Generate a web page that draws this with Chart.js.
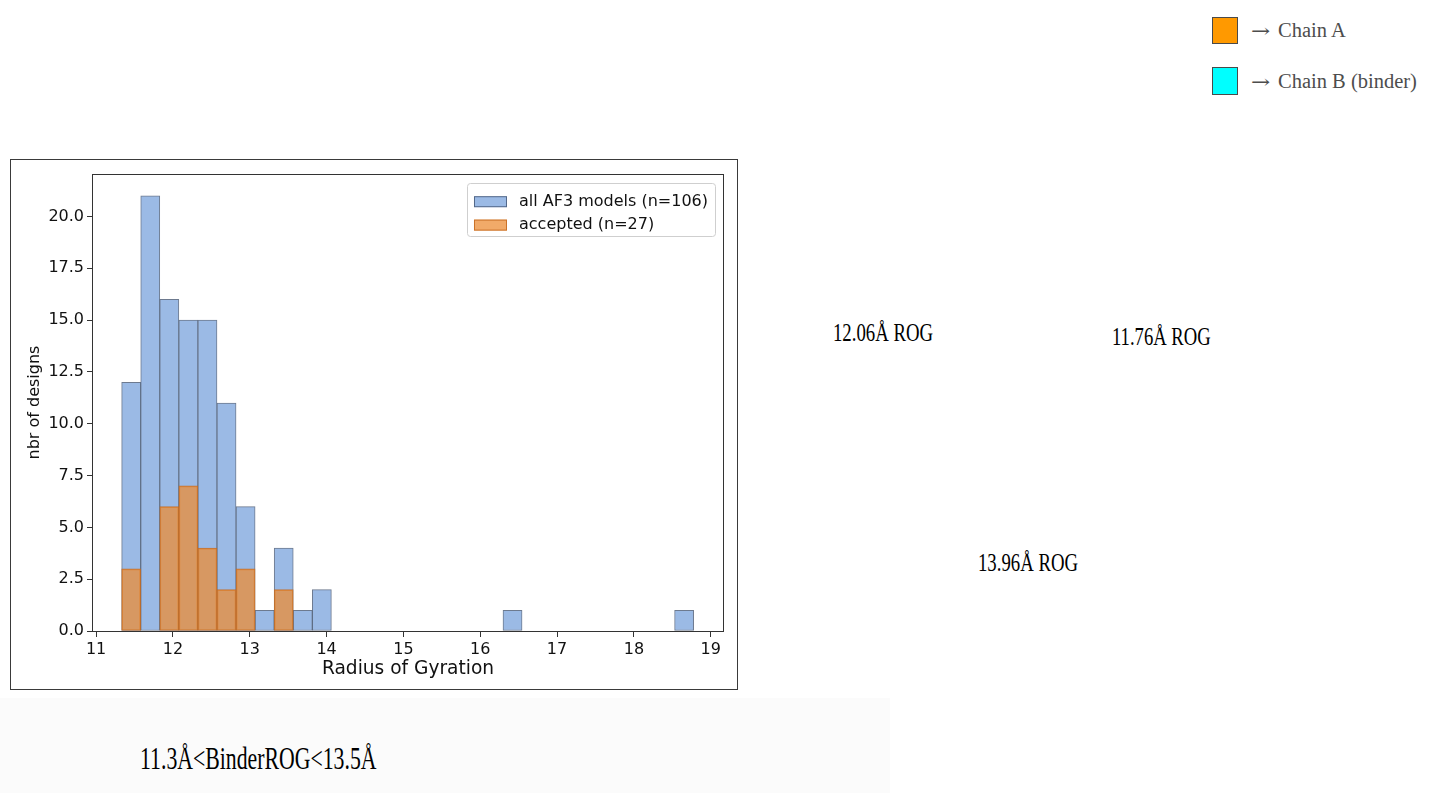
<!DOCTYPE html>
<html>
<head>
<meta charset="utf-8">
<script src="https://cdn.jsdelivr.net/npm/chart.js@4.4.1/dist/chart.umd.min.js"></script>
<style>
  html, body { margin:0; padding:0; background:#fff; }
  body { width:1456px; height:793px; overflow:hidden; position:relative; font-family:"DejaVu Sans", sans-serif; }
  #band { position:absolute; left:0; top:698px; width:890px; height:95px; background:#fbfbfb; }
  #frame { position:absolute; left:10px; top:159px; width:726px; height:529px; border:1px solid #3a3a3a; background:#fff; }
  #frame canvas { position:absolute; left:0; top:0; }
  .serif { position:absolute; font-family:"Liberation Serif", "Times New Roman", serif; line-height:1; white-space:nowrap; transform-origin:0 0; }
  .rog { font-size:25.5px; color:#000; }
  .chain { font-size:20.5px; color:#4d4d4d; }
  .arrow { position:absolute; font-family:"DejaVu Serif", serif; font-size:23px; line-height:1; color:#4d4d4d; transform-origin:0 0; transform:scaleY(0.8); }
  .sq { position:absolute; width:24px; border:1.5px solid #4a4a4a; }
</style>
</head>
<body>
<div id="band"></div>
<div id="frame"><canvas id="c" width="726" height="529"></canvas></div>

<div class="sq" style="left:1212px; top:17px; height:25px; background:#ff9900;"></div>
<div class="arrow" style="left:1251px; top:22px;">→</div>
<div class="serif chain" style="left:1278px; top:20px;">Chain A</div>
<div class="sq" style="left:1212px; top:67px; height:26px; background:#00ffff;"></div>
<div class="arrow" style="left:1251px; top:73px;">→</div>
<div class="serif chain" style="left:1278px; top:71px;">Chain B (binder)</div>

<div class="serif rog" style="left:833px; top:320px; transform:scaleX(0.735);">12.06Å ROG</div>
<div class="serif rog" style="left:1112px; top:324px; transform:scaleX(0.73);">11.76Å ROG</div>
<div class="serif rog" style="left:978px; top:550px; transform:scaleX(0.735);">13.96Å ROG</div>

<div class="serif" style="left:140px; top:742px; font-size:32px; color:#000; transform:scaleX(0.68);">11.3Å&lt;BinderROG&lt;13.5Å</div>

<script>
// ---- data (histogram of radius of gyration, 30 equal bins) ----
const rogMin = 11.333;
const rogMax = 18.778;
const nBins = 30;
const allCounts      = [12,21,16,15,15,11,6,1,4,1,2,0,0,0,0,0,0,0,0,0,1,0,0,0,0,0,0,0,0,1];
const acceptedCounts = [3,0,6,7,4,2,3,0,2,0,0,0,0,0,0,0,0,0,0,0,0,0,0,0,0,0,0,0,0,0];
const seriesLabels   = ['all AF3 models (n=106)', 'accepted (n=27)'];
const xTicks = [11,12,13,14,15,16,17,18,19];
const yTicks = [0,2.5,5,7.5,10,12.5,15,17.5,20];
const xTitle = 'Radius of Gyration';
const yTitle = 'nbr of designs';

const binWidth = (rogMax - rogMin) / nBins;
function toPoints(counts) {
  return counts.map((c, i) => ({ x: rogMin + (i + 0.5) * binWidth, y: c === 0 ? null : c }));
}

const FONT = 'DejaVu Sans';
const blueFill = '#9bbae5', blueEdge = 'rgba(60,78,105,0.75)';
const orangeFill = 'rgba(236,140,52,0.74)', orangeEdge = 'rgba(196,104,30,0.85)';

const boxAndLegend = {
  id: 'boxAndLegend',
  afterDraw(chart) {
    const { ctx, chartArea } = chart;
    ctx.save();
    ctx.strokeStyle = '#333';
    ctx.lineWidth = 1;
    ctx.strokeRect(Math.round(chartArea.left) - 0.5, Math.round(chartArea.top) + 0.5,
                   Math.round(chartArea.right - chartArea.left) + 1, Math.round(chartArea.bottom - chartArea.top));
    const ds = chart.data.datasets;
    const items = [ds[1], ds[0]];
    ctx.font = '16px "' + FONT + '"';
    const textW = Math.max(...items.map(d => ctx.measureText(d.label).width));
    const padX = 7, patchW = 33, patchH = 11, gap = 12;
    const boxW = padX + patchW + gap + textW + padX;
    const boxH = 53;
    const x0 = chartArea.right - 8 - boxW;
    const y0 = chartArea.top + 9;
    ctx.beginPath();
    ctx.roundRect(x0 + 0.5, y0 + 0.5, boxW, boxH, 3);
    ctx.fillStyle = 'rgba(255,255,255,0.85)';
    ctx.fill();
    ctx.strokeStyle = '#cfcfcf';
    ctx.stroke();
    items.forEach((d, i) => {
      const cy = y0 + 18.7 + i * 23.4;
      ctx.fillStyle = d.backgroundColor;
      ctx.fillRect(x0 + padX, cy - patchH / 2, patchW, patchH);
      ctx.strokeStyle = d.borderColor;
      ctx.strokeRect(x0 + padX + 0.5, cy - patchH / 2 + 0.5, patchW - 1, patchH - 1);
      ctx.fillStyle = '#111';
      ctx.textBaseline = 'middle';
      ctx.textAlign = 'left';
      ctx.fillText(d.label, x0 + padX + patchW + gap, cy);
    });
    ctx.restore();
  }
};

new Chart(document.getElementById('c'), {
  type: 'bar',
  data: {
    datasets: [
      { label: seriesLabels[1], data: toPoints(acceptedCounts), backgroundColor: orangeFill, borderColor: orangeEdge,
        borderWidth: 1, borderSkipped: false, grouped: false, order: 0, categoryPercentage: 1, barPercentage: 1 },
      { label: seriesLabels[0], data: toPoints(allCounts), backgroundColor: blueFill, borderColor: blueEdge,
        borderWidth: 1, borderSkipped: false, grouped: false, order: 1, categoryPercentage: 1, barPercentage: 1 }
    ]
  },
  options: {
    responsive: false,
    animation: false,
    events: [],
    layout: { padding: { left: 14, top: 14, right: 14, bottom: 9 } },
    plugins: { legend: { display: false }, tooltip: { enabled: false } },
    scales: {
      x: {
        type: 'linear', min: 10.96, max: 19.16, offset: false,
        afterBuildTicks: s => { s.ticks = xTicks.map(v => ({ value: v })); },
        afterFit: s => { s.height = 49; },
        ticks: { font: { family: FONT, size: 16 }, color: '#111', padding: 3, maxRotation: 0, autoSkip: false,
                 callback: v => String(v) },
        grid: { display: true, drawOnChartArea: false, drawTicks: true, tickLength: 6, tickColor: '#333', tickWidth: 1, offset: false },
        border: { display: false },
        title: { display: true, text: xTitle, font: { family: FONT, size: 18.6 }, color: '#111', padding: 0 }
      },
      y: {
        type: 'linear', min: 0, max: 22.05,
        afterBuildTicks: s => { s.ticks = yTicks.map(v => ({ value: v })); },
        afterFit: s => { s.width = 68; },
        ticks: { font: { family: FONT, size: 16 }, color: '#111', padding: 3, autoSkip: false,
                 callback: v => Number(v).toFixed(1) },
        grid: { display: true, drawOnChartArea: false, drawTicks: true, tickLength: 6, tickColor: '#333', tickWidth: 1 },
        border: { display: false },
        title: { display: true, text: yTitle, font: { family: FONT, size: 16 }, color: '#111', padding: 0 }
      }
    }
  },
  plugins: [boxAndLegend]
});
</script>
</body>
</html>
